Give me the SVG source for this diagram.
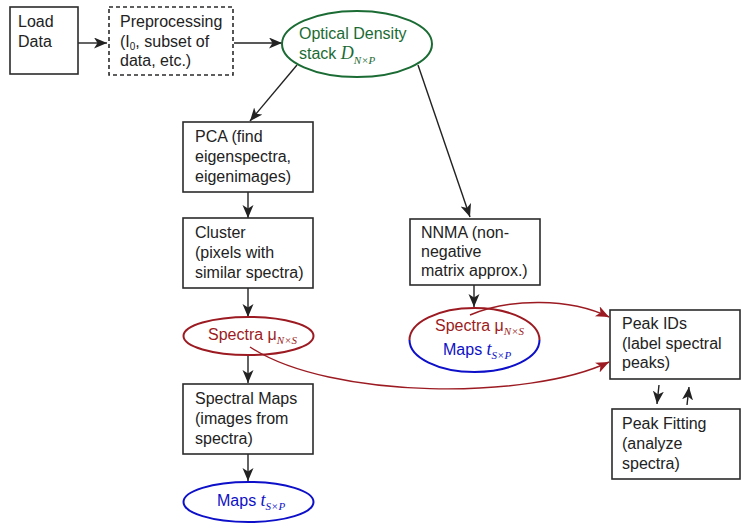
<svg xmlns="http://www.w3.org/2000/svg" width="750" height="532" viewBox="0 0 750 532">
<defs>
<style>
.box{fill:#fff;stroke:#2b2b2b;stroke-width:1.6}
.dash{fill:#fff;stroke:#2b2b2b;stroke-width:1.6;stroke-dasharray:4 3}
.t{font-family:"Liberation Sans",Arial,sans-serif;font-size:16px;fill:#222}
.g{fill:#1b6b34}
.r{fill:#9c1b22}
.b{fill:#0d10c8}
.sub{font-family:"Liberation Serif","Times New Roman",serif;font-style:italic;font-size:11px}
.it{font-family:"Liberation Serif","Times New Roman",serif;font-style:italic;font-size:18px}
.k{fill:none;stroke:#222;stroke-width:1.4}
.rc{fill:none;stroke:#9c1b22;stroke-width:1.4}
</style>
<marker id="ak" markerUnits="userSpaceOnUse" markerWidth="15" markerHeight="13" refX="13" refY="5.5" orient="auto">
<path d="M0,0 L13,5.5 L0,11 L3.5,5.5 z" fill="#222"/>
</marker>
<marker id="ar" markerUnits="userSpaceOnUse" markerWidth="15" markerHeight="13" refX="13" refY="5.5" orient="auto">
<path d="M0,0 L13,5.5 L0,11 L3.5,5.5 z" fill="#9c1b22"/>
</marker>
</defs>
<rect width="750" height="532" fill="#fff"/>

<g id="connectors">
<line class="k" x1="77" y1="43" x2="107" y2="43" marker-end="url(#ak)"/>
<line class="k" x1="234" y1="43" x2="282" y2="43" marker-end="url(#ak)"/>
<line class="k" x1="297" y1="65" x2="250" y2="121" marker-end="url(#ak)"/>
<line class="k" x1="418" y1="65" x2="470" y2="217" marker-end="url(#ak)"/>
<line class="k" x1="248" y1="192" x2="248" y2="218" marker-end="url(#ak)"/>
<line class="k" x1="248" y1="288" x2="248" y2="317" marker-end="url(#ak)"/>
<line class="k" x1="248" y1="355" x2="248" y2="383" marker-end="url(#ak)"/>
<line class="k" x1="248" y1="454" x2="248" y2="481" marker-end="url(#ak)"/>
<line class="k" x1="474" y1="285" x2="474" y2="307" marker-end="url(#ak)"/>
<line class="k" x1="659" y1="385" x2="657" y2="404" marker-end="url(#ak)"/>
<line class="k" x1="687" y1="405" x2="689" y2="387" marker-end="url(#ak)"/>
</g>

<g id="load">
<rect class="box" x="10" y="7" width="68" height="67"/>
<text class="t" x="18" y="27">Load</text>
<text class="t" x="18" y="47">Data</text>
</g>

<g id="preprocessing">
<rect class="dash" x="109" y="7" width="124" height="68"/>
<text class="t" x="120" y="27">Preprocessing</text>
<text class="t" x="120" y="47">(I<tspan font-size="10" dy="3">0</tspan><tspan dy="-3">, subset of</tspan></text>
<text class="t" x="120" y="66">data, etc.)</text>
</g>

<g id="od">
<ellipse cx="357" cy="44" rx="75" ry="33" fill="#fff" stroke="#1b6b34" stroke-width="2"/>
<text class="t g" x="299" y="39">Optical Density</text>
<text class="t g" x="299" y="59">stack <tspan class="it">D</tspan><tspan class="sub" dy="5">N×P</tspan></text>
</g>

<g id="pca">
<rect class="box" x="183" y="122" width="130" height="70"/>
<text class="t" x="195" y="142">PCA (find</text>
<text class="t" x="195" y="162">eigenspectra,</text>
<text class="t" x="195" y="182">eigenimages)</text>
</g>

<g id="cluster">
<rect class="box" x="183" y="218" width="130" height="70"/>
<text class="t" x="195" y="238">Cluster</text>
<text class="t" x="195" y="258">(pixels with</text>
<text class="t" x="195" y="278">similar spectra)</text>
</g>

<g id="spectra">
<ellipse cx="248.5" cy="336" rx="65" ry="19" fill="#fff" stroke="#9c1b22" stroke-width="2"/>
<text class="t r" x="208" y="340">Spectra μ<tspan class="sub" dy="4">N×S</tspan></text>
</g>

<g id="spectralmaps">
<rect class="box" x="183" y="384" width="130" height="70"/>
<text class="t" x="195" y="404">Spectral Maps</text>
<text class="t" x="195" y="424">(images from</text>
<text class="t" x="195" y="444">spectra)</text>
</g>

<g id="maps">
<ellipse cx="248.5" cy="502" rx="65" ry="20" fill="#fff" stroke="#0d10c8" stroke-width="2"/>
<text class="t b" x="217" y="506">Maps <tspan class="it" font-size="17px">t</tspan><tspan class="sub" dy="4">S×P</tspan></text>
</g>

<g id="nnma">
<rect class="box" x="410" y="219" width="130" height="66"/>
<text class="t" x="421" y="238">NNMA (non-</text>
<text class="t" x="421" y="257">negative</text>
<text class="t" x="421" y="276">matrix approx.)</text>
</g>

<g id="nnmaout">
<path d="M409.5,340 A65,32 0 0 1 539.5,340" fill="#fff" stroke="#9c1b22" stroke-width="2"/>
<path d="M409.5,340 A65,32 0 0 0 539.5,340" fill="#fff" stroke="#0d10c8" stroke-width="2"/>
<text class="t r" x="435" y="331">Spectra μ<tspan class="sub" dy="4">N×S</tspan></text>
<text class="t b" x="443" y="355">Maps <tspan class="it" font-size="17px">t</tspan><tspan class="sub" dy="4">S×P</tspan></text>
</g>

<g id="peakids">
<rect class="box" x="610" y="310" width="130" height="69"/>
<text class="t" x="622" y="329">Peak IDs</text>
<text class="t" x="622" y="349">(label spectral</text>
<text class="t" x="622" y="368">peaks)</text>
</g>

<g id="peakfitting">
<rect class="box" x="612" y="409" width="128" height="70"/>
<text class="t" x="622" y="429">Peak Fitting</text>
<text class="t" x="622" y="449">(analyze</text>
<text class="t" x="622" y="469">spectra)</text>
</g>

<g id="red-connectors">
<path class="rc" d="M470,315 C510,298 570,298 609,317" marker-end="url(#ar)"/>
<path class="rc" d="M250,347 C330,400 530,400 609,362" marker-end="url(#ar)"/>
</g>
</svg>
